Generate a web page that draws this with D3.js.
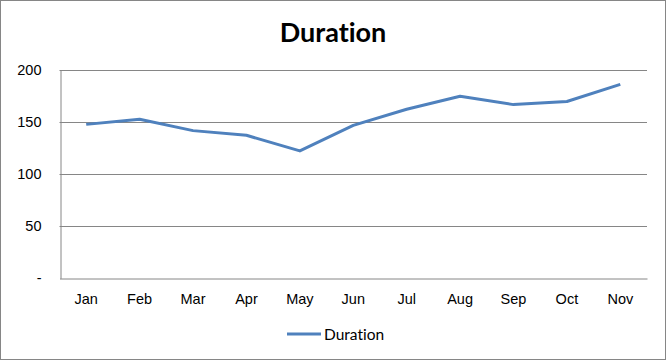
<!DOCTYPE html>
<html>
<head>
<meta charset="utf-8">
<script src="https://cdn.jsdelivr.net/npm/d3@7"></script>
<style>
  body { margin: 0; background: #fff; }
  svg { display: block; font-family: Lato, "Open Sans", sans-serif; font-variant-ligatures: none; }
</style>
</head>
<body>
<svg id="chart" width="667" height="361"></svg>
<script>
// chart data
const months = ["Jan", "Feb", "Mar", "Apr", "May", "Jun", "Jul", "Aug", "Sep", "Oct", "Nov"];
const duration = [148, 153, 142, 137.5, 122.5, 147, 162.5, 175, 167, 170, 186.5];
const yTicks = [0, 50, 100, 150, 200];
const seriesName = "Duration";

const svg = d3.select('#chart');

// outer frame
svg.append('rect')
    .attr('x', 0.5).attr('y', 0.5)
    .attr('width', 665).attr('height', 359)
    .attr('fill', '#fff')
    .attr('stroke', '#868686');

const plotLeft = 59.5, plotRight = 647, plotTop = 70.3, plotBottom = 278.3;

const xScale = d3.scaleBand()
    .domain(months)
    .range([plotLeft, plotRight]);

const yScale = d3.scaleLinear()
    .domain([0, 200])
    .range([plotBottom, plotTop]);

// gridlines
svg.append('g')
    .selectAll('line')
    .data(yTicks.filter(d => d > 0))
    .join('line')
    .attr('x1', plotLeft).attr('x2', plotRight)
    .attr('y1', d => Math.round(yScale(d)) + 0.5)
    .attr('y2', d => Math.round(yScale(d)) + 0.5)
    .attr('stroke', '#868686');

// y axis
const yAxis = d3.axisLeft(yScale)
    .tickValues(yTicks)
    .tickSize(0)
    .tickPadding(19)
    .tickFormat(d => d === 0 ? '-' : d);

svg.append('g')
    .attr('transform', `translate(${Math.round(plotLeft) + 0.5}, 0)`)
    .call(yAxis)
    .call(g => g.select('.domain').attr('stroke', '#868686'))
    .call(g => g.selectAll('text').attr('font-size', 14.5).attr('fill', '#000'));

// x axis
const xAxis = d3.axisBottom(xScale)
    .tickSize(0)
    .tickPadding(15);

svg.append('g')
    .attr('transform', `translate(0, ${Math.round(plotBottom) + 0.5})`)
    .call(xAxis)
    .call(g => g.select('.domain').attr('stroke', '#868686'))
    .call(g => g.selectAll('text').attr('font-size', 14.5).attr('fill', '#000'));

// line
svg.append('path')
    .datum(duration)
    .attr('fill', 'none')
    .attr('stroke', '#4F81BD')
    .attr('stroke-width', 3)
    .attr('stroke-linejoin', 'round')
    .attr('d', d3.line()
        .x((d, i) => xScale(months[i]) + xScale.bandwidth() / 2)
        .y(d => yScale(d)));

// title
svg.append('text')
    .attr('x', 333).attr('y', 42)
    .attr('text-anchor', 'middle')
    .attr('font-size', 27)
    .attr('font-weight', 'bold')
    .text(seriesName);

// legend
svg.append('line')
    .attr('x1', 287).attr('x2', 321)
    .attr('y1', 334).attr('y2', 334)
    .attr('stroke', '#4F81BD')
    .attr('stroke-width', 3);

svg.append('text')
    .attr('x', 324).attr('y', 339.5)
    .attr('font-size', 15.5)
    .text(seriesName);
</script>
</body>
</html>
